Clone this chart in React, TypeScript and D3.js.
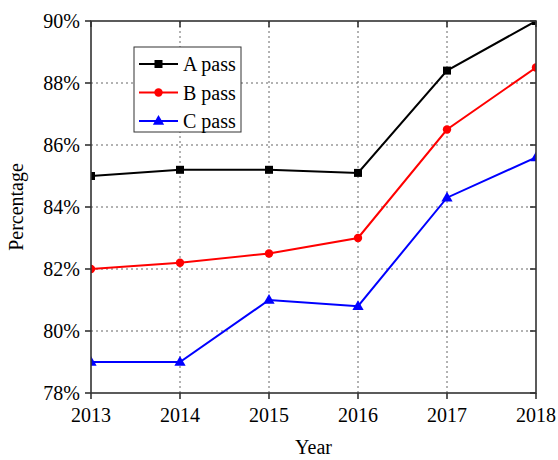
import React from 'react';
import * as d3 from 'd3';

const years = [2013, 2014, 2015, 2016, 2017, 2018];
const aPass = [85.0, 85.2, 85.2, 85.1, 88.4, 90.0];
const bPass = [82.0, 82.2, 82.5, 83.0, 86.5, 88.5];
const cPass = [79.0, 79.0, 81.0, 80.8, 84.3, 85.6];
const yTicks = [78, 80, 82, 84, 86, 88, 90];

const series = [
  { name: 'A pass', values: aPass, color: '#000000', marker: 'square' },
  { name: 'B pass', values: bPass, color: '#ff0000', marker: 'circle' },
  { name: 'C pass', values: cPass, color: '#0000ff', marker: 'triangle' },
];

const W = 558;
const H = 460;
const m = { left: 91, right: 22, top: 21, bottom: 67 };
const font = '"Liberation Serif", "Times New Roman", serif';

const Marker = ({ type, x, y, color }: { type: string; x: number; y: number; color: string }) => {
  if (type === 'square') return <rect x={x - 4} y={y - 4} width={8} height={8} fill={color} />;
  if (type === 'circle') return <circle cx={x} cy={y} r={4.2} fill={color} />;
  const sym = d3.symbol().type(d3.symbolTriangle).size(55)();
  return <path d={sym as string} transform={`translate(${x},${y + 0.5})`} fill={color} />;
};

export default () => {
  const x = d3.scaleLinear().domain([2013, 2018]).range([m.left, W - m.right]);
  const y = d3.scaleLinear().domain([78, 90]).range([H - m.bottom, m.top]);
  const line = d3.line<number>()
    .x((_, i) => x(years[i]))
    .y((d) => y(d));

  const x0 = x.range()[0], x1 = x.range()[1];
  const y0 = y.range()[0], y1 = y.range()[1];

  return (
    <svg width={W} height={H} style={{ position: 'absolute', left: 0, top: 0, background: '#fff' }}>
      <defs>
        <clipPath id="plot">
          <rect x={x0} y={y1} width={x1 - x0} height={y0 - y1} />
        </clipPath>
      </defs>
      {/* grid */}
      {years.slice(1, -1).map((yr) => (
        <line key={'gx' + yr} x1={x(yr)} x2={x(yr)} y1={y1} y2={y0}
          stroke="#666" strokeWidth={1} strokeDasharray="2,3" />
      ))}
      {yTicks.slice(1, -1).map((t) => (
        <line key={'gy' + t} x1={x0} x2={x1} y1={y(t)} y2={y(t)}
          stroke="#666" strokeWidth={1} strokeDasharray="2,3" />
      ))}
      {/* series */}
      <g clipPath="url(#plot)">
        {series.map((s) => (
          <g key={s.name}>
            <path d={line(s.values) as string} fill="none" stroke={s.color} strokeWidth={2} />
            {s.values.map((v, i) => (
              <Marker key={i} type={s.marker} x={x(years[i])} y={y(v)} color={s.color} />
            ))}
          </g>
        ))}
      </g>
      {/* frame */}
      <rect x={x0} y={y1} width={x1 - x0} height={y0 - y1} fill="none" stroke="#333" strokeWidth={1.6} />
      {/* ticks */}
      {years.map((yr) => (
        <g key={'tx' + yr}>
          <line x1={x(yr)} x2={x(yr)} y1={y0} y2={y0 + 6} stroke="#333" strokeWidth={1.6} />
          <line x1={x(yr)} x2={x(yr)} y1={y1} y2={y1 + 6} stroke="#333" strokeWidth={1.6} />
          <text x={x(yr)} y={y0 + 29} textAnchor="middle" fontFamily={font} fontSize={20} fill="#000">{yr}</text>
        </g>
      ))}
      {yTicks.map((t) => (
        <g key={'ty' + t}>
          <line x1={x0 - 6} x2={x0} y1={y(t)} y2={y(t)} stroke="#333" strokeWidth={1.6} />
          <line x1={x1 - 6} x2={x1} y1={y(t)} y2={y(t)} stroke="#333" strokeWidth={1.6} />
          <text x={x0 - 11} y={y(t) + 7} textAnchor="end" fontFamily={font} fontSize={20} fill="#000">{t}%</text>
        </g>
      ))}
      {/* axis titles */}
      <text x={(x0 + x1) / 2} y={454} textAnchor="middle" fontFamily={font} fontSize={20} fill="#000">Year</text>
      <text transform={`translate(23,${(y0 + y1) / 2}) rotate(-90)`} textAnchor="middle" fontFamily={font} fontSize={20} fill="#000">Percentage</text>
      {/* legend */}
      <g>
        <rect x={134} y={47} width={107} height={85} fill="#fff" stroke="#333" strokeWidth={1} />
        {series.map((s, i) => {
          const ly = 64 + i * 28.5;
          return (
            <g key={'lg' + s.name}>
              <line x1={139} x2={178} y1={ly} y2={ly} stroke={s.color} strokeWidth={2} />
              <Marker type={s.marker} x={158.5} y={ly} color={s.color} />
              <text x={183} y={ly + 7} fontFamily={font} fontSize={20} fill="#000">{s.name}</text>
            </g>
          );
        })}
      </g>
    </svg>
  );
};
